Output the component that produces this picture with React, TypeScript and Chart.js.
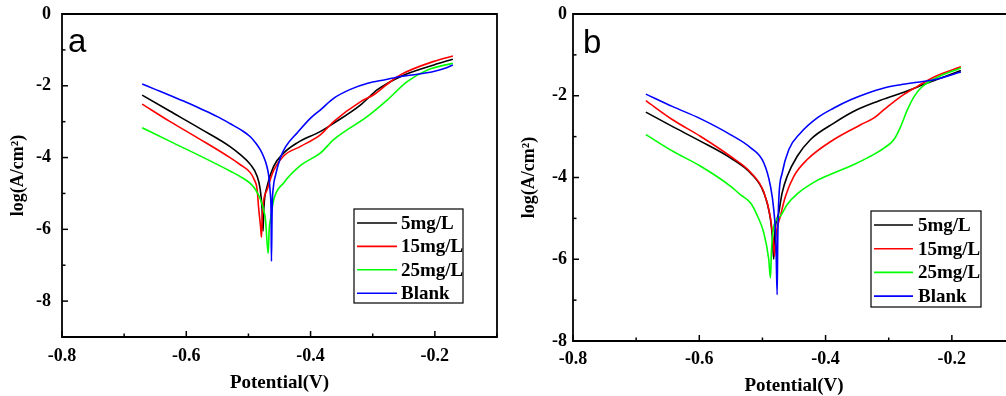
import React, { useEffect, useRef } from "react";
import { Chart, registerables } from "chart.js";

Chart.register(...registerables);

// ---------- Panel a data (Potential in V, log(A/cm2)) ----------
const potA5 = [-0.671, -0.626, -0.577, -0.529, -0.513, -0.497, -0.486, -0.481, -0.478, -0.4765, -0.4753, -0.4698, -0.4592, -0.443, -0.4215, -0.3839, -0.3624, -0.3194, -0.2924, -0.2548, -0.2016, -0.171];
const logA5 = [-2.26, -2.71, -3.2, -3.7, -3.92, -4.19, -4.52, -4.89, -5.44, -6.05, -5.44, -4.8, -4.24, -3.87, -3.59, -3.27, -3.04, -2.53, -2.11, -1.74, -1.42, -1.26];

const potA15 = [-0.671, -0.626, -0.577, -0.529, -0.513, -0.497, -0.4911, -0.486, -0.4834, -0.4806, -0.479, -0.4774, -0.4698, -0.4592, -0.443, -0.4161, -0.3839, -0.3624, -0.3194, -0.2984, -0.2763, -0.2548, -0.2016, -0.171];
const logA15 = [-2.51, -3.0, -3.5, -4.01, -4.2, -4.42, -4.6, -4.89, -5.44, -5.9, -6.22, -5.5, -4.89, -4.35, -3.95, -3.69, -3.36, -2.99, -2.44, -2.25, -1.95, -1.69, -1.32, -1.17];

const potA25 = [-0.671, -0.626, -0.577, -0.529, -0.513, -0.497, -0.4887, -0.4806, -0.4758, -0.4726, -0.4682, -0.4666, -0.4645, -0.4592, -0.443, -0.4161, -0.3839, -0.3629, -0.3085, -0.2763, -0.244, -0.2118, -0.171];
const logA25 = [-3.17, -3.55, -3.96, -4.38, -4.53, -4.72, -4.89, -5.17, -5.45, -5.72, -6.67, -6.0, -5.72, -5.17, -4.7, -4.22, -3.87, -3.5, -2.85, -2.39, -1.88, -1.56, -1.37];

const potABlank = [-0.671, -0.65, -0.626, -0.6, -0.577, -0.55, -0.529, -0.51, -0.497, -0.488, -0.481, -0.475, -0.471, -0.467, -0.465, -0.4635, -0.463, -0.4618, -0.4597, -0.4565, -0.4484, -0.4403, -0.421, -0.4, -0.384, -0.363, -0.336, -0.308, -0.28, -0.255, -0.228, -0.202, -0.185, -0.171];
const logABlank = [-1.95, -2.1, -2.27, -2.46, -2.64, -2.86, -3.06, -3.25, -3.42, -3.6, -3.78, -4.0, -4.2, -4.55, -4.95, -5.6, -6.89, -5.4, -4.8, -4.5, -4.0, -3.7, -3.3, -2.9, -2.67, -2.35, -2.1, -1.93, -1.83, -1.74, -1.68, -1.6, -1.52, -1.42];

// ---------- Panel b data ----------
const potB5 = [-0.6846, -0.6429, -0.5984, -0.5508, -0.519, -0.4979, -0.4873, -0.4841, -0.4821, -0.481, -0.4741, -0.4687, -0.4608, -0.4449, -0.4238, -0.3868, -0.3551, -0.3179, -0.281, -0.2387, -0.1857];
const logB5 = [-2.4, -2.75, -3.11, -3.52, -3.89, -4.37, -5.02, -5.5, -6.0, -5.5, -4.86, -4.37, -3.97, -3.48, -3.07, -2.67, -2.38, -2.14, -1.94, -1.69, -1.38];

const potB15 = [-0.6846, -0.6429, -0.5984, -0.5508, -0.519, -0.4979, -0.4873, -0.4833, -0.4806, -0.479, -0.4714, -0.4635, -0.4503, -0.429, -0.3868, -0.3444, -0.3233, -0.3075, -0.281, -0.2544, -0.2281, -0.1857];
const logB15 = [-2.12, -2.58, -2.99, -3.48, -3.87, -4.35, -4.98, -5.5, -5.92, -5.5, -4.94, -4.46, -3.97, -3.56, -3.07, -2.71, -2.54, -2.34, -2.02, -1.77, -1.54, -1.29];

const potB25 = [-0.6846, -0.6429, -0.5984, -0.5508, -0.5349, -0.519, -0.5085, -0.4979, -0.49, -0.4873, -0.4857, -0.4821, -0.4714, -0.4608, -0.4449, -0.4132, -0.3868, -0.3603, -0.3338, -0.3075, -0.2916, -0.281, -0.2703, -0.2598, -0.2492, -0.2281, -0.1857];
const logB25 = [-2.95, -3.35, -3.72, -4.21, -4.42, -4.62, -4.92, -5.35, -6.0, -6.46, -5.8, -5.2, -4.94, -4.66, -4.4, -4.07, -3.89, -3.72, -3.52, -3.28, -3.07, -2.75, -2.34, -2.02, -1.81, -1.59, -1.32];

const potBBlank = [-0.6846, -0.6429, -0.5984, -0.5508, -0.519, -0.4979, -0.4873, -0.4821, -0.4786, -0.4767, -0.4757, -0.4741, -0.4687, -0.4583, -0.4397, -0.4132, -0.3868, -0.3603, -0.3338, -0.3075, -0.281, -0.2544, -0.2281, -0.1857];
const logBBlank = [-1.96, -2.26, -2.56, -2.95, -3.27, -3.64, -4.21, -4.78, -5.6, -6.87, -5.5, -4.54, -3.89, -3.32, -2.91, -2.54, -2.3, -2.1, -1.94, -1.81, -1.73, -1.67, -1.61, -1.42];

// ---------- labels / ticks ----------
const seriesLabels = ["5mg/L", "15mg/L", "25mg/L", "Blank"];
const seriesColors = ["#000000", "#ff0000", "#00ff00", "#0000ff"];
const xMajorTicks = [-0.8, -0.6, -0.4, -0.2];
const xMinorTicks = [-0.7, -0.5, -0.3, -0.1];
const yMajorTicksA = [0, -2, -4, -6, -8];
const yMinorTicksA = [-1, -3, -5, -7];
const yMajorTicksB = [0, -2, -4, -6, -8];
const yMinorTicksB = [-1, -3, -5, -7];
const xTitle = "Potential(V)";
const yTitle = "log(A/cm\u00B2)";

const SERIF = '"Liberation Serif", "Times New Roman", serif';

const toPoints = (xs: number[], ys: number[]) => xs.map((x, i) => ({ x, y: ys[i] }));

const decorPlugin = {
  id: "decor",
  afterDatasetsDraw(chart: any, _args: any, opts: any) {
    const { ctx, chartArea: a, scales } = chart;
    ctx.save();
    const seg = (x1: number, y1: number, x2: number, y2: number) => {
      ctx.beginPath();
      ctx.moveTo(x1, y1);
      ctx.lineTo(x2, y2);
      ctx.stroke();
    };
    // frame
    ctx.strokeStyle = "#000";
    ctx.lineWidth = 1.8;
    ctx.beginPath();
    ctx.rect(a.left, a.top, a.right - a.left, a.bottom - a.top);
    ctx.stroke();
    // inward ticks
    ctx.lineWidth = 1.5;
    opts.xMajor.forEach((v: number) => {
      const p = scales.x.getPixelForValue(v);
      seg(p, a.bottom, p, a.bottom - 6);
    });
    opts.xMinor.forEach((v: number) => {
      const p = scales.x.getPixelForValue(v);
      seg(p, a.bottom, p, a.bottom - 3.5);
    });
    opts.yMajor.forEach((v: number) => {
      const p = scales.y.getPixelForValue(v);
      seg(a.left, p, a.left + 6, p);
    });
    opts.yMinor.forEach((v: number) => {
      const p = scales.y.getPixelForValue(v);
      seg(a.left, p, a.left + 3.5, p);
    });
    // panel letter
    ctx.fillStyle = "#000";
    ctx.font = `${opts.letterSize}px "Liberation Sans", Arial, sans-serif`;
    ctx.textAlign = "left";
    ctx.textBaseline = "alphabetic";
    ctx.fillText(opts.letter, opts.letterX, opts.letterY);
    // legend box
    const L = opts.legend;
    ctx.fillStyle = "#fff";
    ctx.fillRect(L.left, L.top, L.width, L.height);
    ctx.strokeStyle = "#000";
    ctx.lineWidth = 1.2;
    ctx.strokeRect(L.left, L.top, L.width, L.height);
    ctx.font = `bold ${L.fontSize}px ${SERIF}`;
    ctx.textBaseline = "middle";
    chart.data.datasets.forEach((ds: any, i: number) => {
      const y = L.top + L.firstRow + i * L.rowGap;
      ctx.strokeStyle = ds.borderColor;
      ctx.lineWidth = 1.6;
      seg(L.left + L.lineStart, y, L.left + L.lineStart + L.lineLen, y);
      ctx.fillStyle = "#000";
      ctx.fillText(ds.label, L.left + L.textStart, y + 1);
    });
    ctx.restore();
  },
};

function buildConfig(p: any) {
  const sets = [
    [p.pot5, p.log5],
    [p.pot15, p.log15],
    [p.pot25, p.log25],
    [p.potBlank, p.logBlank],
  ];
  return {
    type: "scatter",
    data: {
      datasets: sets.map((s, i) => ({
        label: seriesLabels[i],
        data: toPoints(s[0], s[1]),
        showLine: true,
        borderColor: seriesColors[i],
        backgroundColor: seriesColors[i],
        borderWidth: 1.6,
        pointRadius: 0,
        pointHoverRadius: 0,
        cubicInterpolationMode: "monotone",
        order: 3 - i,
      })),
    },
    options: {
      animation: false,
      responsive: false,
      maintainAspectRatio: false,
      events: [],
      layout: { padding: { top: 14, right: p.padRight, left: 0, bottom: 0 } },
      plugins: {
        legend: { display: false },
        tooltip: { enabled: false },
        decor: {
          xMajor: xMajorTicks,
          xMinor: xMinorTicks,
          yMajor: p.yMajor,
          yMinor: p.yMinor,
          letter: p.letter,
          letterX: p.letterX,
          letterY: p.letterY,
          letterSize: 33,
          legend: p.legend,
        },
      },
      scales: {
        x: {
          type: "linear",
          min: -0.8,
          max: -0.1,
          grid: { display: false, drawTicks: true, tickLength: p.xTickPad },
          border: { display: false },
          afterFit: (s: any) => {
            s.height = p.xAxisHeight;
          },
          afterBuildTicks: (s: any) => {
            s.ticks = xMajorTicks.map((v) => ({ value: v }));
          },
          ticks: {
            padding: 0,
            color: "#000",
            font: { family: SERIF, weight: "bold", size: 18, lineHeight: 1 },
            callback: (v: number) => v.toFixed(1),
          },
          title: {
            display: true,
            text: xTitle,
            color: "#000",
            font: { family: SERIF, weight: "bold", size: 19 },
            padding: { top: 0, bottom: p.xTitlePad },
          },
        },
        y: {
          type: "linear",
          min: p.yMin,
          max: 0,
          grid: { display: false, drawTicks: true, tickLength: p.yTickPad },
          border: { display: false },
          afterFit: (s: any) => {
            s.width = p.yAxisWidth;
          },
          afterBuildTicks: (s: any) => {
            s.ticks = p.yMajor.map((v: number) => ({ value: v }));
          },
          ticks: {
            padding: 0,
            color: "#000",
            font: { family: SERIF, weight: "bold", size: 18, lineHeight: 1 },
            callback: (v: number) => String(v),
          },
          title: {
            display: true,
            text: yTitle,
            color: "#000",
            font: { family: SERIF, weight: "bold", size: 18 },
            padding: { top: p.yTitlePad, bottom: 0 },
          },
        },
      },
    },
    plugins: [decorPlugin],
  };
}

const panelA = {
  pot5: potA5, log5: logA5,
  pot15: potA15, log15: logA15,
  pot25: potA25, log25: logA25,
  potBlank: potABlank, logBlank: logABlank,
  yMin: -9,
  yMajor: yMajorTicksA,
  yMinor: yMinorTicksA,
  padRight: 8,
  xAxisHeight: 59,
  yAxisWidth: 62,
  xTickPad: 10,
  yTickPad: 11,
  xTitlePad: 1.6,
  yTitlePad: 8,
  letter: "a",
  letterX: 68,
  letterY: 52,
  legend: { left: 354, top: 209, width: 109, height: 94, firstRow: 14, rowGap: 23.4, lineStart: 3, lineLen: 40, textStart: 47, fontSize: 19 },
};

const panelB = {
  pot5: potB5, log5: logB5,
  pot15: potB15, log15: logB15,
  pot25: potB25, log25: logB25,
  potBlank: potBBlank, logBlank: logBBlank,
  yMin: -8,
  yMajor: yMajorTicksB,
  yMinor: yMinorTicksB,
  padRight: 20,
  xAxisHeight: 59,
  yAxisWidth: 68,
  xTickPad: 9,
  yTickPad: 6,
  xTitlePad: 2.6,
  yTitlePad: 14,
  letter: "b",
  letterX: 78,
  letterY: 53,
  legend: { left: 366, top: 211, width: 110, height: 96, firstRow: 14, rowGap: 23.7, lineStart: 3, lineLen: 39, textStart: 47, fontSize: 19 },
};

export default function App() {
  const leftRef = useRef<HTMLCanvasElement | null>(null);
  const rightRef = useRef<HTMLCanvasElement | null>(null);

  useEffect(() => {
    const c1 = new Chart(leftRef.current as HTMLCanvasElement, buildConfig(panelA) as any);
    const c2 = new Chart(rightRef.current as HTMLCanvasElement, buildConfig(panelB) as any);
    return () => {
      c1.destroy();
      c2.destroy();
    };
  }, []);

  return (
    <div
      style={{
        position: "fixed",
        left: 0,
        top: 0,
        width: 1006,
        height: 396,
        overflow: "hidden",
        background: "#fff",
      }}
    >
      <canvas ref={leftRef} width={505} height={396} style={{ position: "absolute", left: 0, top: 0 }} />
      <canvas ref={rightRef} width={530} height={400} style={{ position: "absolute", left: 505, top: 0 }} />
    </div>
  );
}
